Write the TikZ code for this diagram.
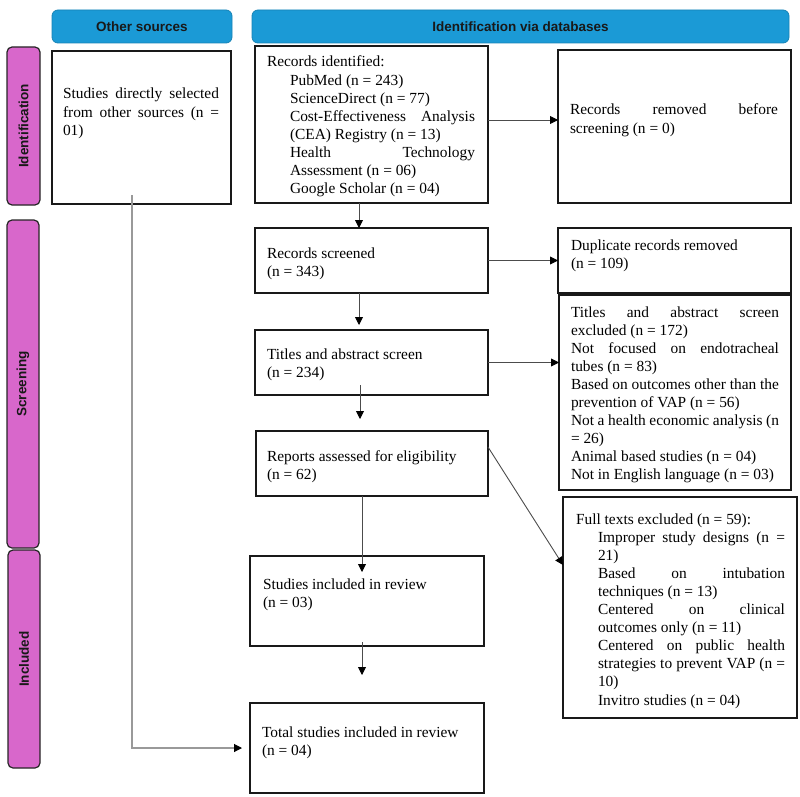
\documentclass[tikz,border=0pt]{standalone}
\usepackage{fontspec}
\setmainfont{Liberation Serif}
\newfontfamily\hfont{Liberation Sans}
\usetikzlibrary{arrows.meta,calc}
\definecolor{hblue}{RGB}{27,154,214}
\definecolor{lpink}{RGB}{216,103,203}
\begin{document}
\begin{tikzpicture}[x=1pt,y=-1pt,
  box/.style={draw=black!90,line width=1.3pt,rectangle,inner sep=0pt,outer sep=0pt,anchor=north west},
  hdr/.style={draw=hblue!85!black,fill=hblue,rounded corners=6pt,line width=0.8pt,anchor=north west,inner sep=0pt,outer sep=0pt,font=\hfont\bfseries\fontsize{13.5}{16}\selectfont,text=black!90},
  side/.style={draw=black!85,fill=lpink,rounded corners=5pt,line width=1.2pt,anchor=north west,inner sep=0pt,outer sep=0pt},
  sidetxt/.style={rotate=90,inner sep=0pt,font=\hfont\bfseries\fontsize{13.5}{16}\selectfont,text=black!90},
  txt/.style={anchor=base west,inner sep=0pt,outer sep=0pt,align=justify,font=\fontsize{15.4}{18.1}\selectfont,
    execute at begin node={\tolerance=10000\hbadness=10000\hyphenpenalty=10000\exhyphenpenalty=10000}},
  arr/.style={-{Triangle[length=8pt,width=8pt,color=black]},line width=0.9pt,draw=black!70},
  garr/.style={-{Triangle[length=8pt,width=8pt,color=black]},line width=1.1pt,draw=black!40},
]
\useasboundingbox (0,0) rectangle (800,797);

% headers
\node[hdr,minimum width=180pt,minimum height=33pt] (hos) at (52,10) {Other sources};
\node[hdr,minimum width=537pt,minimum height=33pt] (hdb) at (252,10) {Identification via databases};

% side labels
\node[side,minimum width=33pt,minimum height=158pt] (sid) at (7,47) {};
\node[sidetxt] (sidt) at (sid.center) {Identification};
\node[side,minimum width=32pt,minimum height=328pt] (ssc) at (7,220) {};
\node[sidetxt] (ssct) at (ssc.center) {Screening};
\node[side,minimum width=32pt,minimum height=218pt] (sin) at (8,550) {};
\node[sidetxt] (sint) at (sin.center) {Included};

% boxes
\node[box,minimum width=179pt,minimum height=153pt] (sds) at (52,51) {};
\node[box,minimum width=233pt,minimum height=157pt] (rid) at (255,46) {};
\node[box,minimum width=233pt,minimum height=153pt] (rrem) at (558,50) {};
\node[box,minimum width=233pt,minimum height=65pt] (rscr) at (255,228) {};
\node[box,minimum width=233pt,minimum height=65pt] (dup) at (558,228) {};
\node[box,minimum width=233pt,minimum height=65pt] (tas) at (255,330) {};
\node[box,minimum width=232pt,minimum height=195pt] (exc) at (559,295) {};
\node[box,minimum width=232pt,minimum height=65pt] (rep) at (256,431) {};
\node[box,minimum width=234pt,minimum height=221pt] (fte) at (563,497) {};
\node[box,minimum width=234pt,minimum height=90pt] (sinc) at (250,556) {};
\node[box,minimum width=234pt,minimum height=90pt] (tot) at (250,703) {};

% texts
\node[txt,text width=156pt] (sdst) at (63,99) {Studies directly selected\linebreak from other sources (n =\linebreak 01)};
\node[txt,text width=208pt] (ridt) at (267,67) {Records identified:\par\leftskip=23pt PubMed (n = 243)\par ScienceDirect (n = 77)\par Cost-Effectiveness Analysis\linebreak (CEA) Registry (n = 13)\par Health Technology\linebreak Assessment (n = 06)\par Google Scholar (n = 04)\par};
\node[txt,text width=208pt] (rremt) at (570,115) {Records removed before\linebreak screening (n = 0)};
\node[txt,text width=210pt] (rscrt) at (267,258) {Records screened\\(n = 343)};
\node[txt,text width=210pt] (dupt) at (571,250) {Duplicate records removed\\(n = 109)};
\node[txt,text width=210pt] (tast) at (267,359) {Titles and abstract screen\\(n = 234)};
\node[txt,text width=208pt] (exct) at (571,317) {Titles and abstract screen\linebreak excluded (n = 172)\par Not focused on endotracheal\linebreak tubes (n = 83)\par Based on outcomes other than the\linebreak prevention of VAP (n = 56)\par Not a health economic analysis (n\linebreak = 26)\par Animal based studies (n = 04)\par Not in English language (n = 03)\par};
\node[txt,text width=210pt] (rept) at (267,461) {Reports assessed for eligibility\\(n = 62)};
\node[txt,text width=215pt] (sinct) at (263,589) {Studies included in review\\(n = 03)};
\node[txt,text width=215pt] (tott) at (262,737) {Total studies included in review\\(n = 04)};
\node[txt,text width=209pt] (ftet) at (576,524) {Full texts excluded (n = 59):\par\leftskip=22pt Improper study designs (n =\linebreak 21)\par Based on intubation\linebreak techniques (n = 13)\par Centered on clinical\linebreak outcomes only (n = 11)\par Centered on public health\linebreak strategies to prevent VAP (n =\linebreak 10)\par Invitro studies (n = 04)\par};

% connectors
\coordinate (a1) at ($(rid.east)+(0,-4.5)$);
\draw[arr] (a1) -- (a1 -| rrem.west);
\draw[arr] (rscr.east) -- (rscr.east -| dup.west);
\draw[arr] (tas.east) -- (tas.east -| exc.west);

\coordinate (v1) at (359,0);
\coordinate (v2) at (360,0);
\coordinate (v3) at (362,0);
\draw[arr] (rid.south -| v1) -- (rscr.north -| v1);
\draw[arr,shorten >=5pt] (rscr.south -| v1) -- (tas.north -| v1);
\draw[arr,shorten <=-10pt,shorten >=12pt] (tas.south -| v2) -- (rep.north -| v2);
\draw[arr,shorten >=-16pt] (rep.south -| v3) -- (sinc.north -| v3);
\draw[arr,shorten <=-4pt,shorten >=28pt] (sinc.south -| v3) -- (tot.north -| v3);

\coordinate (d0) at ($(rep.north east)+(0,16)$);
\coordinate (d1) at ($(fte.north west)+(0,68)$);
\draw[arr] (d0) -- (d1);

\coordinate (g0) at ($(sds.south)+(-9.5,-9)$);
\draw[garr,shorten >=8pt] (g0) |- (tot.west);
\end{tikzpicture}
\end{document}
